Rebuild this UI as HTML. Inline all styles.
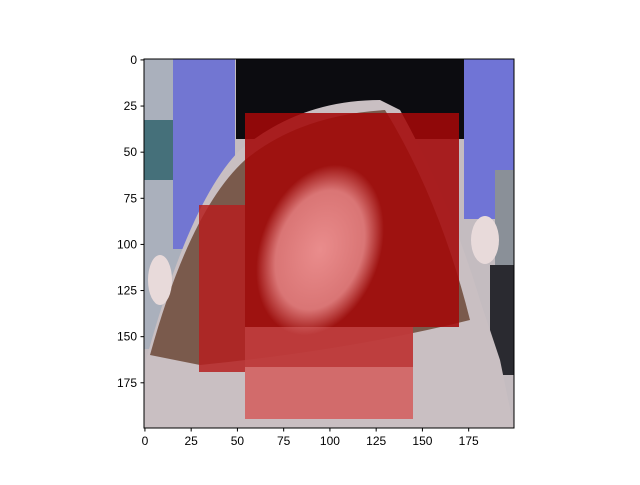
<!DOCTYPE html>
<html><head><meta charset="utf-8"><style>
body{margin:0;background:#fff}
svg text{font-family:"Liberation Sans",sans-serif;font-size:12px;fill:#000}
</style></head><body>
<svg width="640" height="480" viewBox="0 0 640 480">
<defs><clipPath id="ax"><rect x="144" y="59" width="370" height="369"/></clipPath>
<radialGradient id="crack" cx="0.5" cy="0.5" r="0.5"><stop offset="0" stop-color="#f29a9a"/><stop offset="0.7" stop-color="#e08080"/><stop offset="1" stop-color="#e08080" stop-opacity="0"/></radialGradient></defs>
<g clip-path="url(#ax)">
<rect x="144" y="59" width="370" height="369" fill="#c4bcc0"/>
<rect x="144" y="59" width="40" height="290" fill="#aab0bc"/>
<rect x="144" y="120" width="35" height="60" fill="#45707a"/>
<rect x="173" y="59" width="62" height="190" fill="#7276d2"/>
<rect x="236" y="59" width="230" height="80" fill="#0c0c10"/>
<rect x="464" y="59" width="50" height="160" fill="#7074d6"/>
<rect x="495" y="170" width="19" height="100" fill="#8a9098"/>
<rect x="490" y="265" width="24" height="110" fill="#2a2a30"/>
<path d="M146 360 Q190 200 240 150 Q300 100 380 100 L400 110 Q450 200 480 300 L500 360 L514 428 L144 428 Z" fill="#c9bfc2"/>
<path d="M150 355 Q190 210 245 160 Q300 115 385 110 Q440 200 470 320 Q350 350 200 365 Z" fill="#7a5a4c"/>
<ellipse cx="160" cy="280" rx="12" ry="25" fill="#e8dada"/>
<ellipse cx="485" cy="240" rx="14" ry="24" fill="#e8dada"/>
</g>
<g>
<rect x="245" y="113" width="214" height="214" fill="#a30808" opacity="0.88"/>
<rect x="199" y="205" width="46" height="167" fill="#b52020" opacity="0.85"/>
<rect x="245" y="327" width="168" height="92" fill="#d26464" opacity="0.92"/>
<rect x="245" y="327" width="168" height="40" fill="#b02020" opacity="0.6"/>
<ellipse cx="320" cy="250" rx="60" ry="88" fill="url(#crack)" opacity="0.9" transform="rotate(20 320 250)"/>
</g>
<rect x="144" y="59" width="370" height="369" fill="none" stroke="#000" stroke-width="1"/>
<g id="ticks"></g>
</svg>
<script>
const xTicks=[0,25,50,75,100,125,150,175];
const yTicks=[0,25,50,75,100,125,150,175];
const nPix=200;
function px(v){return 144+(v+0.5)*370/nPix;}
function py(v){return 59+(v+0.5)*369/nPix;}
const g=document.getElementById('ticks');const NS='http://www.w3.org/2000/svg';
xTicks.forEach(t=>{
 const l=document.createElementNS(NS,'line');l.setAttribute('x1',px(t));l.setAttribute('x2',px(t));l.setAttribute('y1',428);l.setAttribute('y2',431.5);l.setAttribute('stroke','#000');
 
 
 g.appendChild(l);
 const s=document.createElementNS(NS,'text');s.setAttribute('x',px(t));s.setAttribute('y',445);s.setAttribute('text-anchor','middle');s.textContent=t;
 
 
 g.appendChild(s);
});
yTicks.forEach(t=>{
 const l=document.createElementNS(NS,'line');l.setAttribute('x1',140.5);l.setAttribute('x2',144);l.setAttribute('y1',py(t));l.setAttribute('y2',py(t));l.setAttribute('stroke','#000');
 
 
 g.appendChild(l);
 const s=document.createElementNS(NS,'text');s.setAttribute('x',137);s.setAttribute('y',py(t)+4);s.setAttribute('text-anchor','end');s.textContent=t;
 
 
 g.appendChild(s);
});
</script>
</body></html>
